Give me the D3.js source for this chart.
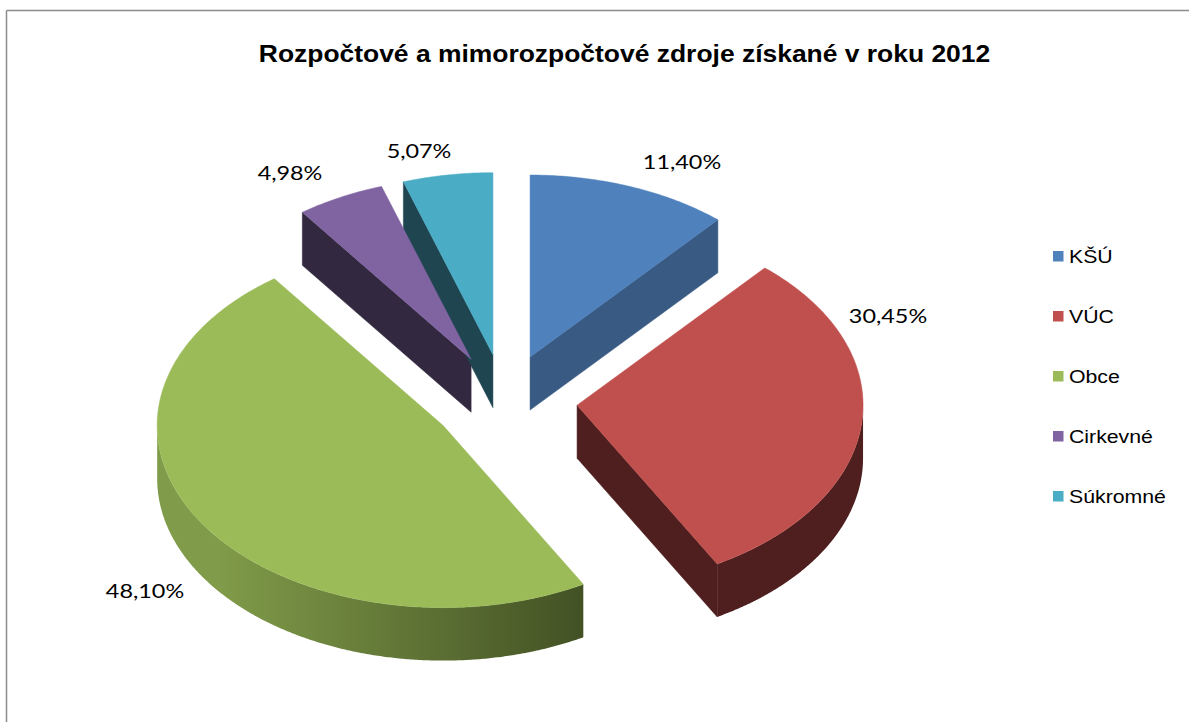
<!DOCTYPE html>
<html>
<head>
<meta charset="utf-8">
<script src="https://cdn.jsdelivr.net/npm/d3@7"></script>
<style>
  html, body { margin: 0; padding: 0; background: #fff; }
  svg { display: block; }
</style>
</head>
<body>
<svg id="chart" width="1189" height="722"></svg>
<script>
// ---- data ----
const categories = ["KŠÚ", "VÚC", "Obce", "Cirkevné", "Súkromné"];
const values = [11.40, 30.45, 48.10, 4.98, 5.07];
const labels = ["11,40%", "30,45%", "48,10%", "4,98%", "5,07%"];
const title = "Rozpočtové a mimorozpočtové zdroje získané v roku 2012";

const topColors = ["#4F81BD", "#C0504D", "#9BBB59", "#8064A2", "#4BACC6"];
const sideColors = ["#385A83", "#4F1F1F", "#3F4D22", "#32283F", "#1F4550"];
const sideLight = ["#4A74A8", "#6A2A28", "#809B49", "#4A3B5E", "#2B6070"];

// ---- geometry ----
const svg = d3.select("#chart");
const cx = 504.5, cy = 400.5, rx = 286, ry = 182, depth = 53, explode = 0.255;
const stretch = 1.15; // horizontal stretch of text in the original

// border (top and left lines)
svg.append("line").attr("x1", 6.5).attr("y1", 10.5).attr("x2", 1189).attr("y2", 10.5)
  .attr("stroke", "#8c8c8c").attr("stroke-width", 1.5);
svg.append("line").attr("x1", 6.5).attr("y1", 10.5).attr("x2", 6.5).attr("y2", 722)
  .attr("stroke", "#8c8c8c").attr("stroke-width", 1.5);

svg.append("text").attr("transform", `translate(624.5,62) scale(${stretch},1)`)
  .attr("text-anchor", "middle")
  .attr("font-family", "'Liberation Sans', Arial, sans-serif").attr("font-weight", "bold")
  .attr("font-size", 23).attr("fill", "#000").text(title);

const pie = d3.pie().sort(null).value(d => d)
  .startAngle(0).endAngle(2 * Math.PI);
const arcs = pie(values);

const defs = svg.append("defs");
arcs.forEach((a, i) => {
  const g = defs.append("linearGradient").attr("id", "side" + i)
    .attr("gradientUnits", "userSpaceOnUse")
    .attr("x1", cx - rx).attr("x2", cx + rx * 0.35).attr("y1", 0).attr("y2", 0);
  g.append("stop").attr("offset", 0).attr("stop-color", sideLight[i]);
  g.append("stop").attr("offset", 1).attr("stop-color", sideColors[i]);
});

function pt(ox, oy, ang, r, dz) {
  return [ox + r * rx * Math.sin(ang), oy - r * ry * Math.cos(ang) + (dz || 0)];
}
const line = d3.line();
const sidesG = svg.append("g");
const topsG = svg.append("g");

arcs.forEach((a, i) => {
  const mid = (a.startAngle + a.endAngle) / 2;
  const ox = cx + explode * rx * Math.sin(mid);
  const oy = cy - explode * ry * Math.cos(mid);
  const a0 = a.startAngle, a1 = a.endAngle;
  const n = Math.max(8, Math.ceil((a1 - a0) / 0.01));
  const arcPts = (from, to, dz) => d3.range(n + 1).map(k => pt(ox, oy, from + (to - from) * k / n, 1, dz));

  const faces = [
    { ang: a0, normal: a0 - Math.PI / 2 },
    { ang: a1, normal: a1 + Math.PI / 2 }
  ];
  faces.forEach(f => {
    if (Math.cos(f.normal) < -1e-6) {
      const p1 = [ox, oy], p2 = pt(ox, oy, f.ang, 1);
      const poly = [p1, p2, [p2[0], p2[1] + depth], [p1[0], p1[1] + depth]];
      sidesG.append("path").attr("d", line(poly) + "Z").attr("fill", sideColors[i])
        .attr("stroke", sideColors[i]).attr("stroke-width", 0.5);
    }
  });
  const s = Math.max(a0, Math.PI / 2), e = Math.min(a1, 3 * Math.PI / 2);
  if (e > s) {
    const topArc = arcPts(s, e, 0);
    const botArc = arcPts(e, s, depth);
    sidesG.append("path").attr("d", line(topArc.concat(botArc)) + "Z")
      .attr("fill", i === 2 ? "url(#side" + i + ")" : sideColors[i])
      .attr("stroke", "none");
  }
  const topPoly = [[ox, oy]].concat(arcPts(a0, a1, 0));
  topsG.append("path").attr("d", line(topPoly) + "Z").attr("fill", topColors[i])
    .attr("stroke", topColors[i]).attr("stroke-width", 0.5);
});

// data labels
const labelPos = [[682, 169], [888, 323], [145, 598], [290, 180], [419, 158]];
labels.forEach((t, i) => {
  svg.append("text")
    .attr("transform", `translate(${labelPos[i][0]},${labelPos[i][1]}) scale(1.2,1)`)
    .attr("text-anchor", "middle").attr("font-family", "Lato, 'Open Sans', sans-serif")
    .attr("font-size", 19.5).attr("fill", "#000").text(t);
});

// legend
const legend = svg.append("g").attr("transform", "translate(1053,251)");
categories.forEach((c, i) => {
  const g = legend.append("g").attr("transform", `translate(0,${i * 60})`);
  g.append("rect").attr("width", 10.5).attr("height", 10.5).attr("fill", topColors[i]);
  g.append("text").attr("transform", `translate(16,12) scale(1.12,1)`)
    .attr("font-family", "'Liberation Sans', Arial, sans-serif").attr("font-size", 19)
    .attr("fill", "#000").text(c);
});
</script>
</body>
</html>
